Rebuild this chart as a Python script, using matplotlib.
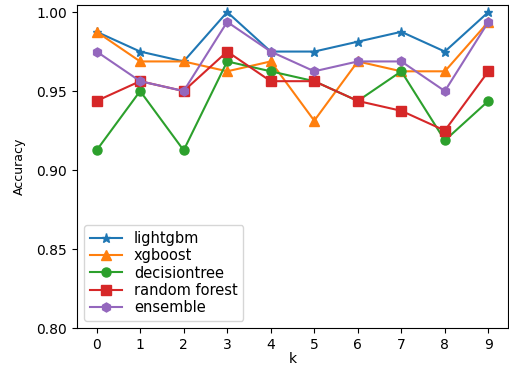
import matplotlib
matplotlib.use('Agg')
import matplotlib.pyplot as plt

k = list(range(10))
lightgbm = [0.9875, 0.975, 0.96875, 1.0, 0.975, 0.975, 0.98125, 0.9875, 0.975, 1.0]
xgboost = [0.9875, 0.96875, 0.96875, 0.9625, 0.96875, 0.93125, 0.96875, 0.9625, 0.9625, 0.99375]
decisiontree = [0.9125, 0.95, 0.9125, 0.96875, 0.9625, 0.95625, 0.94375, 0.9625, 0.91875, 0.94375]
random_forest = [0.94375, 0.95625, 0.95, 0.975, 0.95625, 0.95625, 0.94375, 0.9375, 0.925, 0.9625]
ensemble = [0.975, 0.95625, 0.95, 0.99375, 0.975, 0.9625, 0.96875, 0.96875, 0.95, 0.99375]
yticks = [0.80, 0.85, 0.90, 0.95, 1.00]

fig = plt.figure(figsize=(5.1, 3.67), dpi=100)
ax = fig.add_axes([0.151, 0.106, 0.845, 0.88])

ax.plot(k, lightgbm, marker='*', ms=6.5, label='lightgbm')
ax.plot(k, xgboost, marker='^', ms=6.5, label='xgboost')
ax.plot(k, decisiontree, marker='o', ms=6.5, label='decisiontree')
ax.plot(k, random_forest, marker='s', ms=6.5, label='random forest')
ax.plot(k, ensemble, marker='h', ms=6.5, label='ensemble')

ax.set_ylim(bottom=0.8)
ax.set_xticks(k)
ax.set_yticks(yticks)
ax.set_yticklabels(['%.2f' % v for v in yticks])
ax.set_xlabel('k', labelpad=0)
ax.set_ylabel('Accuracy', fontsize=9, labelpad=8)
ax.legend(loc='lower left', fontsize=10.5, labelspacing=0.15, handlelength=2.2)

fig.savefig('out.png', dpi=100)
